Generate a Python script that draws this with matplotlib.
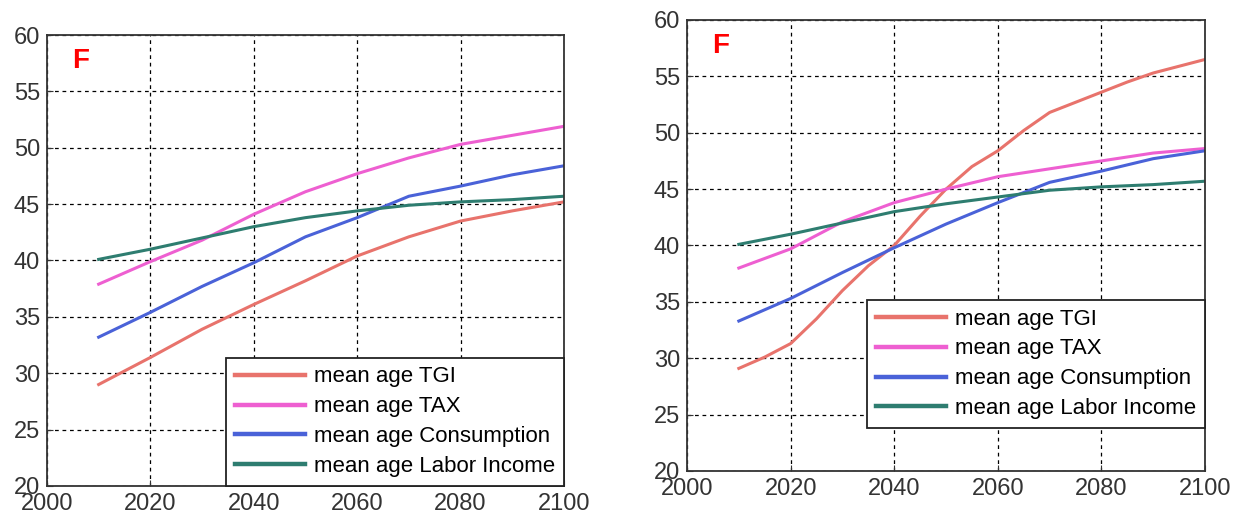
import matplotlib.pyplot as plt

plt.rcParams['font.family'] = ['Liberation Sans', 'DejaVu Sans']

years = [2010, 2020, 2030, 2040, 2050, 2060, 2070, 2080, 2090, 2100]
labels = ['mean age TGI', 'mean age TAX', 'mean age Consumption', 'mean age Labor Income']
colors = ['#e8736c', '#ee5fd1', '#4a62d8', '#2e7d70']

# left panel
tgi_left = [29.0, 31.4, 33.9, 36.1, 38.2, 40.4, 42.1, 43.5, 44.4, 45.2]
tax_left = [37.9, 39.9, 41.8, 44.1, 46.1, 47.7, 49.1, 50.3, 51.1, 51.9]
cons_left = [33.2, 35.4, 37.7, 39.8, 42.1, 43.8, 45.7, 46.6, 47.6, 48.4]
labor_left = [40.1, 41.0, 42.0, 43.0, 43.8, 44.4, 44.9, 45.2, 45.4, 45.7]

# right panel (TGI sampled every 5 years)
years_tgi_right = [2010, 2015, 2020, 2025, 2030, 2035, 2040, 2045, 2050, 2055,
                   2060, 2065, 2070, 2075, 2080, 2085, 2090, 2095, 2100]
tgi_right = [29.1, 30.1, 31.3, 33.5, 36.0, 38.2, 40.0, 42.6, 45.0, 47.0,
             48.4, 50.2, 51.8, 52.7, 53.6, 54.5, 55.3, 55.9, 56.5]
tax_right = [38.0, 39.7, 42.1, 43.8, 45.0, 46.1, 46.8, 47.5, 48.2, 48.6]
cons_right = [33.3, 35.3, 37.6, 39.8, 41.9, 43.8, 45.6, 46.6, 47.7, 48.4]
labor_right = [40.1, 41.0, 42.0, 43.0, 43.7, 44.3, 44.9, 45.2, 45.4, 45.7]

fig = plt.figure(figsize=(12.39, 5.14), dpi=100)
ax1 = fig.add_axes([0.0379, 0.0545, 0.4173, 0.8774])
ax2 = fig.add_axes([0.5545, 0.0837, 0.4181, 0.8774])

panels = [
    (ax1, [(years, tgi_left), (years, tax_left), (years, cons_left), (years, labor_left)],
     (1.0, 0.0)),
    (ax2, [(years_tgi_right, tgi_right), (years, tax_right), (years, cons_right), (years, labor_right)],
     (1.0, 0.095)),
]

for ax, series, anchor in panels:
    for (x, y), lab, c in zip(series, labels, colors):
        ax.plot(x, y, color=c, lw=2.2, label=lab)
    ax.set_xlim(2000, 2100)
    ax.set_ylim(20, 60)
    ax.set_xticks(range(2000, 2101, 20))
    ax.set_yticks(range(20, 61, 5))
    ax.grid(True, color='black', linestyle=(0, (3, 3)), lw=0.9)
    ax.tick_params(direction='in', length=4, labelsize=17, colors='#333333')
    ax.tick_params(axis='x', pad=5)
    ax.tick_params(axis='y', pad=5)
    for s in ax.spines.values():
        s.set_color('#333333')
        s.set_linewidth(1.3)
    ax.text(0.048, 0.972, 'F', transform=ax.transAxes, color='red',
            fontsize=20, fontweight='bold', ha='left', va='top')
    leg = ax.legend(fontsize=16, handlelength=3.15, handletextpad=0.4,
                    labelspacing=0.4, borderpad=0.4, borderaxespad=0,
                    fancybox=False, framealpha=1,
                    loc='lower right', bbox_to_anchor=anchor)
    leg.get_frame().set_edgecolor('#222222')
    leg.get_frame().set_linewidth(1.3)
    for line in leg.get_lines():
        line.set_linewidth(3.2)

fig.savefig('out.png', dpi=100)
